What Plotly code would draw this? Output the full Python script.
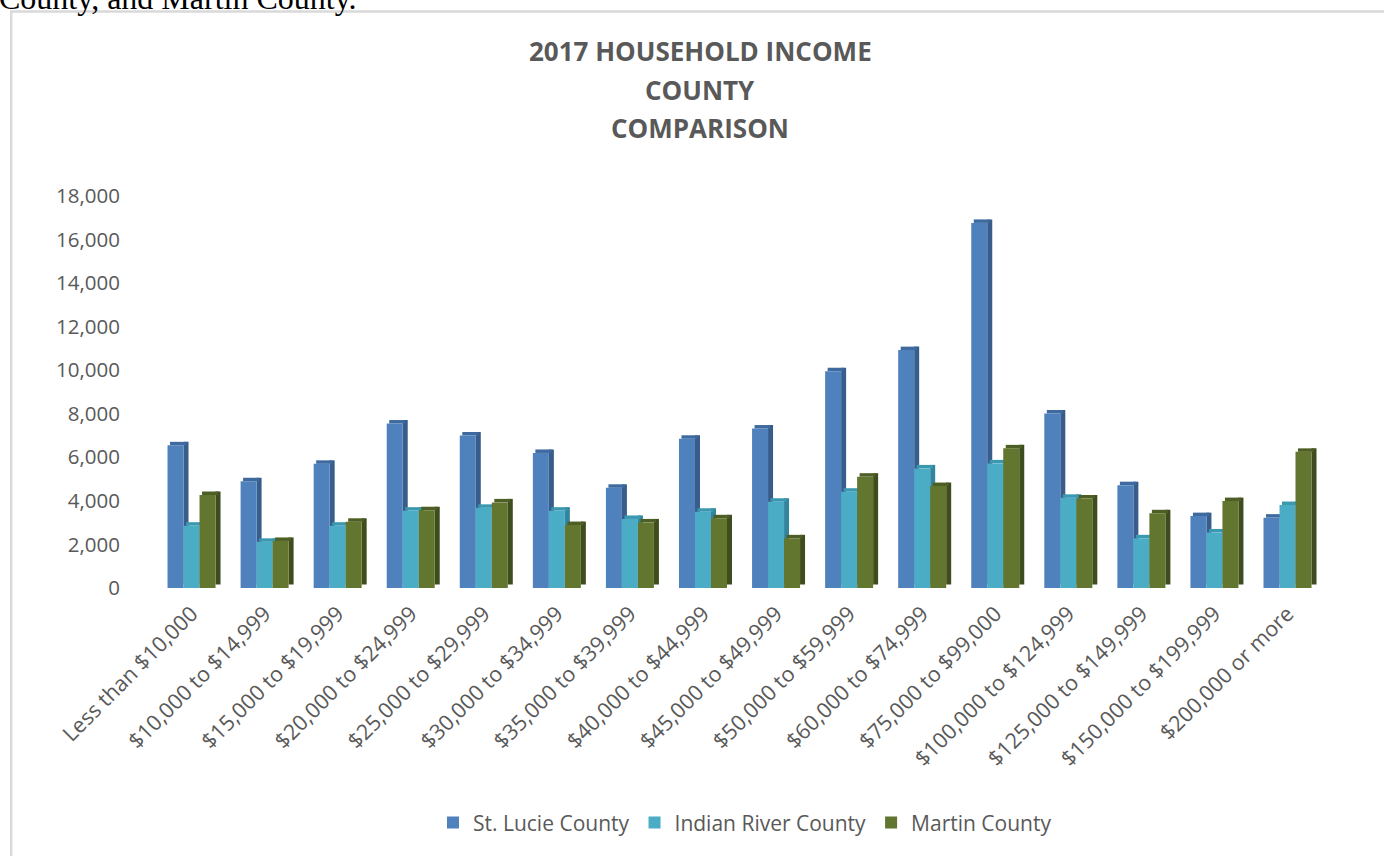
import plotly.graph_objects as go

categories = ["Less than $10,000", "$10,000 to $14,999", "$15,000 to $19,999", "$20,000 to $24,999",
              "$25,000 to $29,999", "$30,000 to $34,999", "$35,000 to $39,999", "$40,000 to $44,999",
              "$45,000 to $49,999", "$50,000 to $59,999", "$60,000 to $74,999", "$75,000 to $99,000",
              "$100,000 to $124,999", "$125,000 to $149,999", "$150,000 to $199,999", "$200,000 or more"]
st_lucie = [6550, 4900, 5700, 7550, 7000, 6200, 4600, 6850, 7320, 9950, 10920, 16760, 8010, 4720, 3300, 3230]
indian_river = [2860, 2120, 2860, 3550, 3680, 3550, 3170, 3500, 3960, 4420, 5490, 5720, 4140, 2280, 2550, 3810]
martin = [4270, 2160, 3040, 3570, 3930, 2890, 3010, 3200, 2280, 5110, 4680, 6410, 4110, 3430, 3990, 6250]
series_names = ["St. Lucie County", "Indian River County", "Martin County"]
front_colors = ["#4F81BD", "#4BACC6", "#62762F"]
side_colors = ["#385D8A", "#31859C", "#3F4C1D"]
top_colors = ["#3E6A9F", "#3A98B0", "#4E5F25"]
y_ticks = [0, 2000, 4000, 6000, 8000, 10000, 12000, 14000, 16000, 18000]

W, H = 1384, 856
UNIT = 73.07            # px per category
PX_PER_VAL = 392.4 / 18000
L = 154.8
X_MIN, X_MAX = -0.5, 15.65
R = L + (X_MAX - X_MIN) * UNIT
B = 588.0
Y_MAX = 18500
T = B - Y_MAX * PX_PER_VAL
BACK_SHIFT = 6 / PX_PER_VAL      # back-wall gridlines sit a little higher
DEPTH = 3.5 / PX_PER_VAL         # 3D depth rise (value units)
BAR_W = 16 / UNIT
SIDE_W = 5 / UNIT

def px(x):
    return (x - L) / (R - L)

def py(y):
    return (B - y) / (B - T)

fig = go.Figure()
for i, (name, vals) in enumerate(zip(series_names, [st_lucie, indian_river, martin])):
    off = -1.5 * BAR_W + i * BAR_W
    # right side face
    fig.add_trace(go.Bar(x=categories, y=vals, base=[DEPTH] * len(vals), offset=off + BAR_W,
                         width=SIDE_W, marker_color=side_colors[i], marker_line_width=0,
                         showlegend=False, hoverinfo="skip", legendgroup=name))
    # top face
    fig.add_trace(go.Bar(x=categories, y=[DEPTH] * len(vals), base=vals, offset=off + SIDE_W / 2,
                         width=BAR_W, marker_color=top_colors[i], marker_line_width=0,
                         showlegend=False, hoverinfo="skip", legendgroup=name))
    # front face
    fig.add_trace(go.Bar(x=categories, y=vals, name=name, offset=off, width=BAR_W,
                         marker_color=front_colors[i], marker_line_width=0, legendgroup=name))

font_family = "'Open Sans', sans-serif"
fig.update_layout(
    width=W, height=H,
    margin=dict(l=L, r=W - R, t=T, b=H - B, pad=0),
    paper_bgcolor="white", plot_bgcolor="white",
    barmode="overlay",
    font=dict(family=font_family, color="#595959", size=19),
    xaxis=dict(range=[X_MIN, X_MAX], tickangle=-45, showgrid=False, showline=False,
               tickfont=dict(size=21.5, color="#595959"), ticks="", zeroline=False,
               ticklabelstandoff=8),
    yaxis=dict(range=[0, Y_MAX], tickvals=y_ticks, tickformat=",d", showgrid=False,
               zeroline=False, showline=False, ticks="", ticklabelstandoff=34,
               tickfont=dict(size=20.5, color="#595959")),
    yaxis2=dict(range=[-BACK_SHIFT, Y_MAX - BACK_SHIFT], overlaying="y", anchor="x", side="left",
                tickvals=y_ticks, showticklabels=False, showgrid=True, gridcolor="#D9D9D9",
                gridwidth=2, zeroline=True, zerolinecolor="#D9D9D9", zerolinewidth=2,
                showline=False, ticks=""),
    legend=dict(orientation="h", x=0.5, xanchor="center", y=py(823), yanchor="middle",
                font=dict(size=21, color="#595959"), itemwidth=30, traceorder="normal"),
    showlegend=True,
)

fig.add_shape(type="rect", xref="paper", yref="paper",
              x0=px(11), x1=px(1395), y0=py(11), y1=py(880),
              line=dict(color="#D9D9D9", width=2.5), fillcolor="rgba(0,0,0,0)", layer="below")

titles = ["2017 HOUSEHOLD INCOME", "COUNTY", "COMPARISON"]
for t, yc in zip(titles, [51, 90, 128]):
    fig.add_annotation(text="<b>" + t + "</b>", xref="paper", yref="paper",
                       x=px(700), y=py(yc), xanchor="center", yanchor="middle",
                       showarrow=False, font=dict(size=26, color="#595959", family=font_family))

fig.add_annotation(text="County, and Martin County.", xref="paper", yref="paper",
                   x=px(-3), y=py(-2), xanchor="left", yanchor="middle", showarrow=False,
                   font=dict(size=32, color="black", family="'Liberation Serif', serif"))

fig.write_html("out.html")
